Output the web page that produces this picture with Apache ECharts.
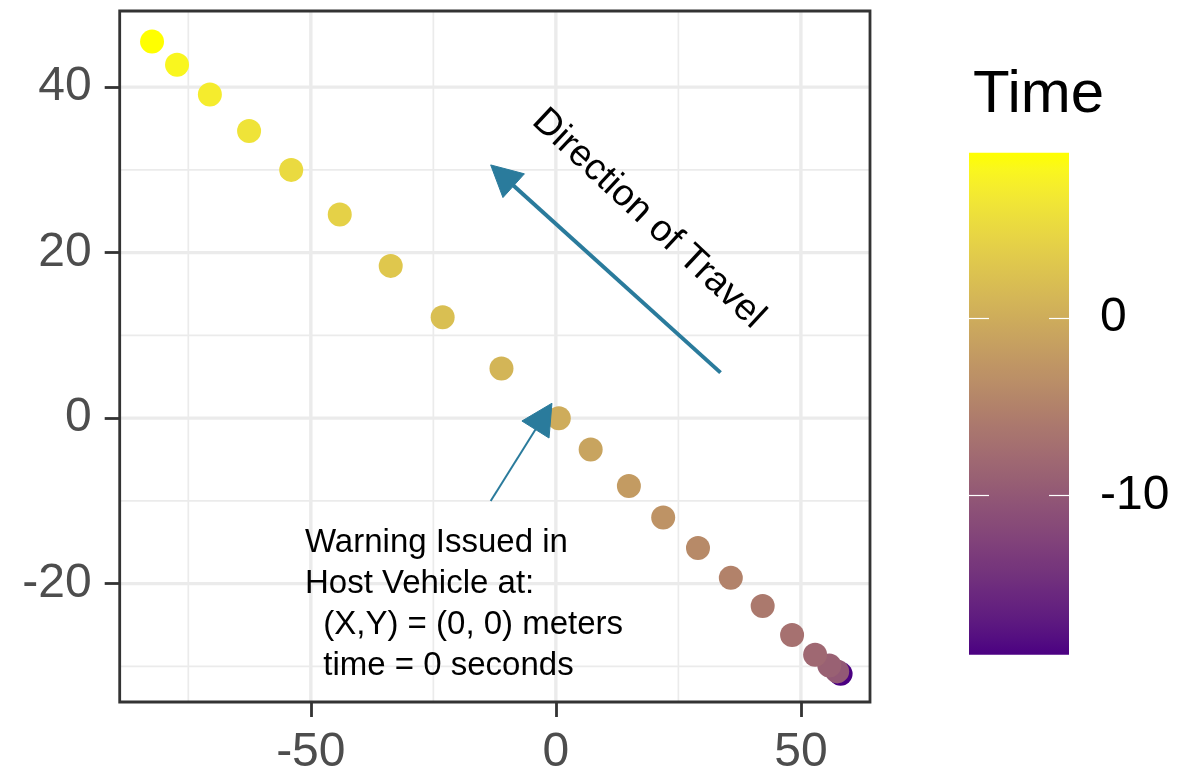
<!DOCTYPE html>
<html><head><meta charset="utf-8">
<script src="https://cdn.jsdelivr.net/npm/echarts@6/dist/echarts.min.js"></script>
<style>html,body{margin:0;padding:0;background:#fff}#chart{width:1177px;height:777px}</style>
</head><body><div id="chart"></div>
<script>
// ---- data ----
const xPos = [58.1, 57.4, 55.8, 52.9, 48.2, 42.2, 35.7, 29.0, 21.9, 14.9, 7.1, 0.6, -11.1, -23.1, -33.7, -44.1, -54.0, -62.6, -70.6, -77.3, -82.4];
const yPos = [-30.9, -30.6, -29.9, -28.6, -26.2, -22.7, -19.3, -15.7, -12.0, -8.2, -3.8, 0.0, 6.0, 12.2, 18.4, 24.6, 30.0, 34.7, 39.1, 42.7, 45.5];
const timeValues = [-19.0, -10, -9, -8, -7, -6, -5, -4, -3, -2, -1, 0, 1.0, 2.1, 3.1, 4.2, 5.2, 6.2, 7.3, 8.3, 9.34];
const xMajorBreaks = [-50, 0, 50];
const xMinorBreaks = [-75, -25, 25];
const yMajorBreaks = [-20, 0, 20, 40];
const yMinorBreaks = [-30, -10, 10, 30];
const timeBreaks = [-10, 0];
const xLimits = [-89.0, 64.1];
const yLimits = [-34.3, 49.2];
const arrowTravel = [33.6, 5.5, -13.3, 30.6];
const arrowWarning = [-13.3, -10.0, -0.8, 1.8];
const labelTravelPos = [18.9, 24.1];
const labelWarningPos = [-51.2, -22.5];
const textTravel = 'Direction of Travel';
const textWarning = 'Warning Issued in\nHost Vehicle at:\n  (X,Y) = (0, 0) meters\n  time = 0 seconds';
const legendTitle = 'Time';

// ---- styles ----
const FONT = '"Liberation Sans", Arial, sans-serif';
const ARROW = '#2A7B9C';
const LOW = '#4B0082', HIGH = '#FFFF00';

// Lab interpolation (like ggplot's scale_colour_gradient)
function hex2rgb(h){return [1,3,5].map(i=>parseInt(h.substr(i,2),16)/255);}
function lin(c){return c<=0.04045?c/12.92:Math.pow((c+0.055)/1.055,2.4);}
function delin(c){return c<=0.0031308?12.92*c:1.055*Math.pow(c,1/2.4)-0.055;}
const WP=[0.95047,1,1.08883];
function rgb2lab(rgb){const [r,g,b]=rgb.map(lin);
  const X=(0.4124564*r+0.3575761*g+0.1804375*b)/WP[0];
  const Y=(0.2126729*r+0.7151522*g+0.0721750*b)/WP[1];
  const Z=(0.0193339*r+0.1191920*g+0.9503041*b)/WP[2];
  const f=t=>t>0.008856?Math.cbrt(t):7.787*t+16/116;
  const fx=f(X),fy=f(Y),fz=f(Z);
  return [116*fy-16,500*(fx-fy),200*(fy-fz)];}
function lab2hex(lab){const fy=(lab[0]+16)/116, fx=fy+lab[1]/500, fz=fy-lab[2]/200;
  const finv=t=>t*t*t>0.008856?t*t*t:(t-16/116)/7.787;
  const X=finv(fx)*WP[0],Y=finv(fy)*WP[1],Z=finv(fz)*WP[2];
  const r=3.2404542*X-1.5371385*Y-0.4985314*Z;
  const g=-0.9692660*X+1.8760108*Y+0.0415560*Z;
  const b=0.0556434*X-0.2040259*Y+1.0572252*Z;
  return '#'+[r,g,b].map(c=>Math.round(Math.min(1,Math.max(0,delin(c)))*255).toString(16).padStart(2,'0')).join('');}
const labLo=rgb2lab(hex2rgb(LOW)), labHi=rgb2lab(hex2rgb(HIGH));
const NSTOP=32;
const palette=[];
for(let i=0;i<NSTOP;i++){const f=i/(NSTOP-1);palette.push(lab2hex(labLo.map((v,k)=>v+(labHi[k]-v)*f)));}

const tMin=Math.min(...timeValues), tMax=Math.max(...timeValues);

const chart=echarts.init(document.getElementById('chart'),null,{renderer:'canvas'});

function vLines(values,width){
  return {type:'custom',xAxisIndex:0,yAxisIndex:0,z:1,silent:true,
    data:values.map(v=>[v]),
    renderItem:(params,api)=>{const cs=params.coordSys;const x=api.coord([api.value(0),yLimits[0]])[0];
      return {type:'line',shape:{x1:x,y1:cs.y,x2:x,y2:cs.y+cs.height},style:{stroke:'#EBEBEB',lineWidth:width}};}};
}
function hLines(values,width){
  return {type:'custom',xAxisIndex:0,yAxisIndex:0,z:1,silent:true,
    data:values.map(v=>[v]),
    renderItem:(params,api)=>{const cs=params.coordSys;const y=api.coord([xLimits[0],api.value(0)])[1];
      return {type:'line',shape:{x1:cs.x,y1:y,x2:cs.x+cs.width,y2:y},style:{stroke:'#EBEBEB',lineWidth:width}};}};
}

const arrowWidths=[4,2];
const textStyles=[
  {text:textTravel,fontSize:37.5,align:'center',verticalAlign:'middle',rotation:-43*Math.PI/180,lineHeight:44},
  {text:textWarning,fontSize:33,align:'left',verticalAlign:'middle',rotation:0,lineHeight:41}
];

const option={
  animation:false,
  backgroundColor:'#fff',
  grid:[
    {left:119.7,top:11,width:750.3,height:693,show:true,backgroundColor:'transparent',borderColor:'#333333',borderWidth:2.8,z:10},
    {left:969,top:152.7,width:100,height:502,show:false}
  ],
  xAxis:[
    {type:'value',gridIndex:0,min:xLimits[0],max:xLimits[1],position:'bottom',
      axisLine:{show:false,onZero:false},splitLine:{show:false},
      axisTick:{show:true,length:15,lineStyle:{color:'#333333',width:2.8},customValues:xMajorBreaks},
      axisLabel:{customValues:xMajorBreaks,fontSize:48,color:'#4D4D4D',margin:27,fontFamily:FONT}},
    {type:'value',gridIndex:1,min:0,max:1,show:false}
  ],
  yAxis:[
    {type:'value',gridIndex:0,min:yLimits[0],max:yLimits[1],position:'left',
      axisLine:{show:false,onZero:false},splitLine:{show:false},
      axisTick:{show:true,length:15,lineStyle:{color:'#333333',width:2.8},customValues:yMajorBreaks},
      axisLabel:{customValues:yMajorBreaks,fontSize:48,color:'#4D4D4D',margin:28,fontFamily:FONT}},
    {type:'value',gridIndex:1,min:tMin,max:tMax,position:'right',z:10,
      axisLine:{show:false,onZero:false},splitLine:{show:false},
      axisTick:{show:true,inside:true,length:20,lineStyle:{color:'#FFFFFF',width:1.2},customValues:timeBreaks},
      axisLabel:{customValues:timeBreaks,fontSize:48,color:'#000000',margin:31,fontFamily:FONT}},
    {type:'value',gridIndex:1,min:tMin,max:tMax,position:'left',z:10,
      axisLine:{show:false,onZero:false},splitLine:{show:false},
      axisTick:{show:true,inside:true,length:20,lineStyle:{color:'#FFFFFF',width:1.2},customValues:timeBreaks},
      axisLabel:{show:false}}
  ],
  visualMap:[{type:'continuous',show:false,min:tMin,max:tMax,dimension:2,seriesIndex:0,inRange:{color:palette}}],
  graphic:[{type:'text',x:973,y:95,style:{text:legendTitle,fontSize:60,fontFamily:FONT,fill:'#000',align:'left',verticalAlign:'middle'}}],
  series:[
    {type:'scatter',xAxisIndex:0,yAxisIndex:0,z:3,symbolSize:24,
      data:xPos.map((x,i)=>[x,yPos[i],timeValues[i]]),itemStyle:{opacity:1}},
    vLines(xMinorBreaks,1.7), hLines(yMinorBreaks,1.7),
    vLines(xMajorBreaks,3.4), hLines(yMajorBreaks,3.4),
    {type:'custom',xAxisIndex:0,yAxisIndex:0,z:4,silent:true,
      data:[arrowTravel,arrowWarning],
      renderItem:(params,api)=>{
        const p1=api.coord([api.value(0),api.value(1)]), p2=api.coord([api.value(2),api.value(3)]);
        const dx=p2[0]-p1[0], dy=p2[1]-p1[1], L=Math.hypot(dx,dy), ux=dx/L, uy=dy/L;
        const hl=31, hw=16; const bx=p2[0]-ux*hl, by=p2[1]-uy*hl;
        const lw=arrowWidths[params.dataIndex];
        return {type:'group',children:[
          {type:'line',shape:{x1:p1[0],y1:p1[1],x2:bx+ux*3,y2:by+uy*3},style:{stroke:ARROW,lineWidth:lw}},
          {type:'polygon',shape:{points:[[p2[0],p2[1]],[bx-uy*hw,by+ux*hw],[bx+uy*hw,by-ux*hw]]},style:{fill:ARROW,stroke:ARROW,lineWidth:1}}
        ]};
      }},
    {type:'custom',xAxisIndex:0,yAxisIndex:0,z:5,silent:true,
      data:[labelTravelPos,labelWarningPos],
      renderItem:(params,api)=>{
        const p=api.coord([api.value(0),api.value(1)]);
        const s=textStyles[params.dataIndex];
        return {type:'text',x:p[0],y:p[1],rotation:s.rotation,
          style:{text:s.text,fontSize:s.fontSize,fontFamily:FONT,fill:'#000',align:s.align,verticalAlign:s.verticalAlign,lineHeight:s.lineHeight}};
      }},
    {type:'custom',xAxisIndex:1,yAxisIndex:1,z:2,silent:true,
      data:[[0,tMin,1,tMax]],
      renderItem:(params,api)=>{
        const a=api.coord([api.value(0),api.value(3)]), b=api.coord([api.value(2),api.value(1)]);
        const stops=palette.map((c,i)=>({offset:1-i/(NSTOP-1),color:c})).reverse();
        return {type:'rect',shape:{x:a[0],y:a[1],width:b[0]-a[0],height:b[1]-a[1]},
          style:{fill:new echarts.graphic.LinearGradient(0,0,0,1,stops)}};
      }}
  ]
};
chart.setOption(option);
</script></body></html>
